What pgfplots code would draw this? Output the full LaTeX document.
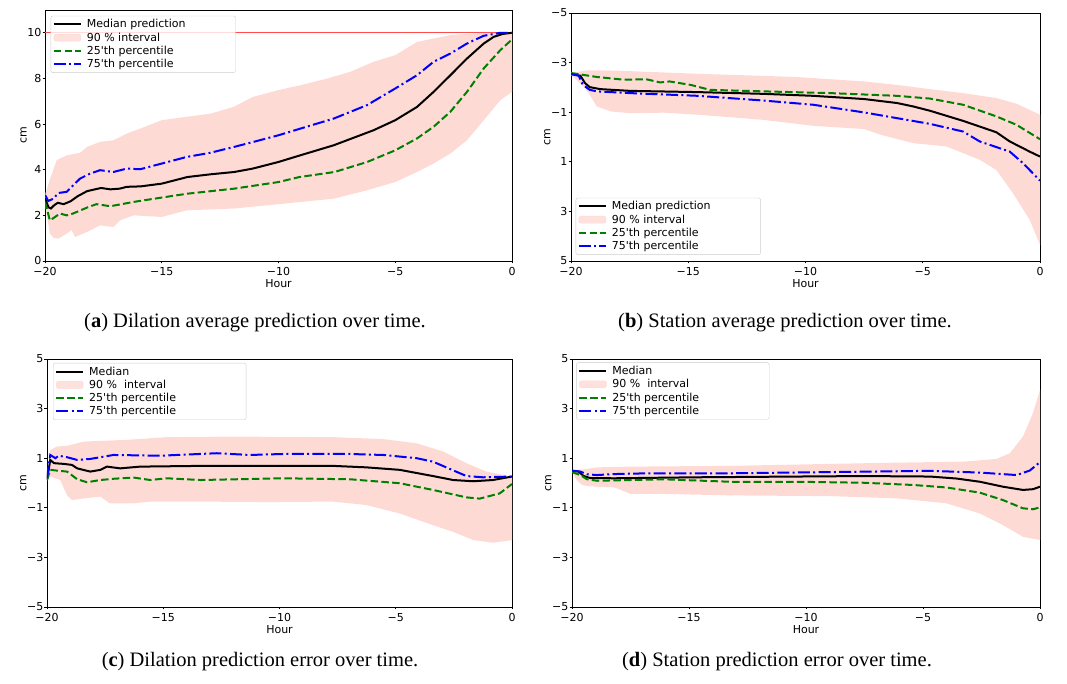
\documentclass[border=0pt]{standalone}
\usepackage{fontspec}
\setmainfont{DejaVu Sans}[Ligatures=TeXOff]
\newfontfamily\capfont{Liberation Serif}
\usepackage{pgfplots}
\pgfplotsset{compat=1.18}
\definecolor{band}{RGB}{254,218,213}
\definecolor{mplgreen}{RGB}{0,128,0}
\definecolor{mplblue}{RGB}{0,0,255}
\tikzset{
  med/.style={black, line width=2pt},
  q25/.style={mplgreen, line width=2pt, dash pattern=on 7.5pt off 3.3pt},
  q75/.style={mplblue, line width=2pt, dash pattern=on 12pt off 3.3pt on 2pt off 3.3pt},
  bnd/.style={fill=band, draw=none},
}
\pgfplotsset{
  mpl/.style={
    scale only axis, xmin=-20, xmax=0,
    xtick={-20,-15,-10,-5,0}, xticklabels={−20,−15,−10,−5,0},
    xtick pos=bottom, ytick pos=left, tick align=outside,
    /pgf/number format/assume math mode=true,
    major tick length=2.5pt, tick style={black, line width=0.8pt},
    axis line style={black, line width=0.8pt},
    tick label style={font=\fontsize{11}{13}\selectfont},
    yticklabel style={inner xsep=1pt},
    label style={font=\fontsize{11}{13}\selectfont},
    xlabel={Hour}, ylabel={cm},
    xlabel style={yshift=3pt}, ylabel style={yshift=-4pt},
    legend cell align=left,
    legend style={font=\fontsize{11}{13}\selectfont, draw=black!20, rounded corners=2pt,
      fill=white, fill opacity=0.8, text opacity=1, inner xsep=2pt, inner ysep=1.5pt, row sep=-0.6pt,
      /tikz/every odd column/.append style={column sep=3pt}},
  },
  lmed/.style={legend image code/.code={\draw[med] (0pt,0pt) -- (27pt,0pt);}},
  l25/.style={legend image code/.code={\draw[q25] (0pt,0pt) -- (27pt,0pt);}},
  l75/.style={legend image code/.code={\draw[q75] (0pt,0pt) -- (27pt,0pt);}},
  lbnd/.style={legend image code/.code={\fill[band] (0pt,-3.5pt) rectangle (27pt,3.5pt);}},
}
\begin{document}
\begin{tikzpicture}
\useasboundingbox (0,0) rectangle (1067pt,684pt);

% (a) dilation average prediction
\begin{axis}[mpl, at={(45pt,423pt)}, anchor=south west, width=467pt, height=251pt,
  ymin=0, ymax=11, ytick={0,2,4,6,8,10}, yticklabels={0,2,4,6,8,10},
  legend style={at={(0.012,0.977)}, anchor=north west}]
\addplot[bnd, forget plot] coordinates {
  (-20,2.9)(-19.8,3.54)(-19.5,4.42)(-19.07,4.63)(-18.5,4.74)(-18.2,5.0)(-17.64,5.22)(-17.07,5.29)
  (-16.5,5.58)(-15.93,5.80)(-15,6.17)(-13.93,6.32)(-12.9,6.46)(-11.93,6.75)(-11.1,7.19)(-10,7.49)
  (-9.07,7.7)(-7.93,7.99)(-6.93,8.29)(-5.93,8.73)(-5,9.02)(-4.07,9.6)(-2.64,9.9)(-1.21,10)(0,10)
  (0,7.41)(-0.5,7.05)(-1.21,6.17)(-1.93,5.29)(-2.64,4.71)(-3.36,4.27)(-4.07,3.9)(-5,3.46)
  (-6.21,3.1)(-7.64,2.73)(-10,2.49)(-11.9,2.3)(-13.93,2.22)(-15,1.93)(-16.21,2.0)(-16.79,1.78)
  (-17.07,1.49)(-17.64,1.56)(-18.21,1.27)(-18.71,1.05)(-18.86,1.35)(-19.07,1.2)(-19.43,0.98)
  (-19.64,1.02)(-19.79,1.2)(-20,2.5)};
\addplot[red!70, line width=1pt, forget plot] coordinates {(-20,10)(0,10)};
\addplot[med, forget plot] coordinates {
  (-20,2.75)(-19.85,2.35)(-19.75,2.3)(-19.6,2.45)(-19.45,2.55)(-19.2,2.49)(-18.9,2.62)(-18.6,2.84)
  (-18.2,3.06)(-17.6,3.2)(-17.2,3.14)(-16.8,3.17)(-16.5,3.25)(-15.9,3.27)(-15,3.39)(-13.9,3.68)
  (-12.9,3.8)(-11.9,3.9)(-11.1,4.05)(-10,4.34)(-9.07,4.63)(-7.64,5.07)(-5.93,5.73)(-5,6.17)
  (-4.07,6.75)(-3.36,7.41)(-2.64,8.14)(-1.93,8.87)(-1.21,9.53)(-0.79,9.82)(-0.4,9.95)(0,10)};
\addplot[q25, forget plot] coordinates {
  (-20,2.6)(-19.79,1.78)(-19.57,1.93)(-19.36,2.08)(-19.07,2.0)(-18.8,2.08)(-18.2,2.34)(-17.8,2.49)
  (-17.2,2.4)(-16.2,2.59)(-15,2.78)(-13.9,2.95)(-11.9,3.17)(-10,3.46)(-9.1,3.68)(-7.6,3.9)
  (-6.2,4.34)(-5,4.85)(-4.07,5.37)(-3.36,5.88)(-2.64,6.54)(-1.93,7.41)(-1.21,8.44)(-0.5,9.24)(0,9.71)};
\addplot[q75, forget plot] coordinates {
  (-20,2.9)(-19.86,2.63)(-19.64,2.73)(-19.43,2.98)(-19.07,3.03)(-18.86,3.25)(-18.5,3.61)(-18.07,3.83)
  (-17.64,3.98)(-17.07,3.9)(-16.5,4.05)(-15.93,4.02)(-15,4.27)(-13.93,4.56)(-12.93,4.74)(-11.9,5.0)
  (-11.07,5.22)(-10,5.51)(-9.07,5.80)(-7.64,6.24)(-6.21,6.83)(-5,7.56)(-4.07,8.14)(-3.36,8.73)
  (-2.64,9.09)(-1.93,9.53)(-1.21,9.87)(-0.5,10)(0,10)};
\addlegendimage{lmed}\addlegendentry{Median prediction\hspace*{46pt}\null}
\addlegendimage{lbnd}\addlegendentry{90 \% interval}
\addlegendimage{l25}\addlegendentry{25'th percentile}
\addlegendimage{l75}\addlegendentry{75'th percentile}
\end{axis}

% (b) station average prediction
\begin{axis}[mpl, at={(571pt,423pt)}, anchor=south west, width=469pt, height=248pt,
  ymin=-5, ymax=5, y dir=reverse, ytick={-5,-3,-1,1,3,5}, yticklabels={−5,−3,−1,1,3,5},
  legend style={at={(0.01,0.025)}, anchor=south west}]
\addplot[bnd, forget plot] coordinates {
  (-20,-2.58)(-19.3,-2.69)(-18.2,-2.68)(-14.6,-2.55)(-10.4,-2.42)(-7.5,-2.24)(-6.1,-2.1)(-4.7,-1.93)
  (-3.28,-1.77)(-1.86,-1.57)(-1.0,-1.34)(0,-0.9)
  (0,4.35)(-0.44,3.34)(-1.15,2.27)(-1.86,1.33)(-2.57,0.92)(-3.28,0.65)(-4.0,0.38)(-5.4,0.25)
  (-6.8,-0.09)(-7.5,-0.32)(-9.67,-0.45)(-11.8,-0.69)(-14.6,-0.9)(-16.05,-0.98)(-17.5,-0.96)
  (-18.3,-1.03)(-18.9,-1.23)(-19.2,-1.7)(-19.46,-2.04)(-20,-2.5)};
\addplot[med, forget plot] coordinates {
  (-20,-2.54)(-19.6,-2.47)(-19.4,-2.17)(-19.2,-2.01)(-18.75,-1.93)(-17.5,-1.86)(-14.6,-1.81)
  (-11.8,-1.74)(-9.67,-1.66)(-7.5,-1.53)(-6.1,-1.37)(-5.4,-1.23)(-4.7,-1.06)(-3.28,-0.65)
  (-1.86,-0.19)(-1.29,0.18)(-0.44,0.59)(0,0.79)};
\addplot[q25, forget plot] coordinates {
  (-20,-2.58)(-18.9,-2.42)(-17.75,-2.31)(-16.8,-2.33)(-16.2,-2.2)(-15.8,-2.24)(-14.9,-2.1)
  (-14.07,-1.9)(-11.8,-1.84)(-8.96,-1.77)(-6.1,-1.66)(-4.7,-1.55)(-3.28,-1.3)(-1.86,-0.83)
  (-1.0,-0.49)(0,0.09)};
\addplot[q75, forget plot] coordinates {
  (-20,-2.54)(-19.67,-2.47)(-19.5,-2.11)(-19.2,-1.9)(-18.9,-1.84)(-17.5,-1.77)(-14.6,-1.66)
  (-11.8,-1.47)(-9.67,-1.3)(-7.5,-0.99)(-6.1,-0.76)(-4.7,-0.53)(-3.28,-0.22)(-2.57,0.18)
  (-1.29,0.59)(-0.72,1.06)(0,1.76)};
\addlegendimage{lmed}\addlegendentry{Median prediction\hspace*{46pt}\null}
\addlegendimage{lbnd}\addlegendentry{90 \% interval}
\addlegendimage{l25}\addlegendentry{25'th percentile}
\addlegendimage{l75}\addlegendentry{75'th percentile}
\end{axis}

% (c) dilation prediction error
\begin{axis}[mpl, at={(47pt,77pt)}, anchor=south west, width=465pt, height=248pt,
  ymin=-5, ymax=5, ytick={-5,-3,-1,1,3,5}, yticklabels={−5,−3,−1,1,3,5},
  legend style={at={(0.013,0.984)}, anchor=north west}]
\addplot[bnd, forget plot] coordinates {
  (-20,0.3)(-19.86,1.33)(-19.57,1.47)(-19.14,1.5)(-18.4,1.67)(-16.56,1.74)(-14.85,1.85)(-12,1.87)
  (-7.7,1.85)(-5.54,1.77)(-4.1,1.6)(-2.96,1.27)(-1.96,0.8)(-1.1,0.46)(0,0.26)
  (0,-2.3)(-0.82,-2.41)(-1.67,-2.3)(-2.53,-1.97)(-3.4,-1.70)(-4.83,-1.23)(-6.26,-0.89)(-7.7,-0.75)
  (-10.5,-0.77)(-13.4,-0.75)(-15.56,-0.75)(-16.28,-0.82)(-17.3,-0.82)(-17.7,-0.55)(-18.4,-0.62)
  (-18.93,-0.69)(-19.14,-0.49)(-19.43,0.12)(-19.86,0.26)(-20,0.1)};
\addplot[med, forget plot] coordinates {
  (-20,0.12)(-19.86,0.93)(-19.7,0.8)(-19.28,0.77)(-18.93,0.73)(-18.7,0.59)(-18.14,0.46)(-17.7,0.53)
  (-17.42,0.66)(-16.85,0.59)(-16,0.66)(-13.4,0.69)(-9.84,0.69)(-7.7,0.69)(-6.26,0.63)(-4.83,0.53)
  (-3.4,0.28)(-2.53,0.12)(-1.67,0.07)(-0.82,0.12)(0,0.26)};
\addplot[q25, forget plot] coordinates {
  (-20,0.12)(-19.86,0.53)(-19.57,0.5)(-19.14,0.46)(-18.7,0.15)(-18.28,0.03)(-17.7,0.12)(-17.14,0.17)
  (-16.28,0.22)(-15.56,0.12)(-14.85,0.19)(-13.4,0.12)(-9.84,0.19)(-6.97,0.15)(-4.83,-0.01)
  (-3.4,-0.28)(-1.96,-0.58)(-1.39,-0.63)(-0.53,-0.42)(0,-0.04)};
\addplot[q75, forget plot] coordinates {
  (-20,0.19)(-19.86,1.13)(-19.64,1.0)(-19.5,1.1)(-19.14,1.04)(-18.7,0.93)(-18.14,0.97)(-17.14,1.13)
  (-15.13,1.1)(-12.7,1.2)(-11.27,1.13)(-9.84,1.17)(-7,1.17)(-5.54,1.13)(-4.1,1.0)(-3.4,0.86)
  (-1.96,0.28)(-1.25,0.23)(0,0.26)};
\addlegendimage{lmed}\addlegendentry{Median}
\addlegendimage{lbnd}\addlegendentry{90 \%\ \ interval}
\addlegendimage{l25}\addlegendentry{25'th percentile\hspace*{66pt}\null}
\addlegendimage{l75}\addlegendentry{75'th percentile}
\end{axis}

% (d) station prediction error
\begin{axis}[mpl, at={(572pt,77pt)}, anchor=south west, width=468pt, height=248pt,
  ymin=-5, ymax=5, ytick={-5,-3,-1,1,3,5}, yticklabels={−5,−3,−1,1,3,5},
  legend style={at={(0.009,0.986)}, anchor=north west}]
\addplot[bnd, forget plot] coordinates {
  (-20,0.52)(-19.5,0.55)(-18.93,0.63)(-17.5,0.66)(-13.24,0.69)(-8.97,0.77)(-6.13,0.82)(-3.28,0.86)
  (-1.86,0.97)(-1.29,1.2)(-0.73,1.87)(-0.3,2.82)(0,3.76)
  (0,-2.3)(-0.73,-2.17)(-1.58,-1.7)(-2.57,-1.23)(-4.0,-0.82)(-6.13,-0.62)(-8.97,-0.53)(-13.24,-0.5)
  (-16.1,-0.44)(-17.5,-0.44)(-18.2,-0.17)(-18.93,-0.15)(-19.36,-0.12)(-19.57,-0.08)(-19.8,0.12)(-20,0.45)};
\addplot[med, forget plot] coordinates {
  (-20,0.49)(-19.72,0.46)(-19.5,0.28)(-19.22,0.2)(-18.2,0.19)(-14.67,0.23)(-10.4,0.26)(-7.55,0.28)
  (-4.7,0.26)(-3.57,0.18)(-2.57,0.05)(-1.58,-0.15)(-0.73,-0.28)(-0.3,-0.25)(0,-0.15)};
\addplot[q25, forget plot] coordinates {
  (-20,0.44)(-19.64,0.32)(-19.36,0.15)(-18.93,0.09)(-17.5,0.12)(-16.1,0.15)(-13.24,0.05)(-10.4,0.05)
  (-7.55,0.01)(-5.42,-0.08)(-4.0,-0.18)(-2.57,-0.39)(-1.58,-0.69)(-0.73,-1.02)(-0.3,-1.06)(0,-0.98)};
\addplot[q75, forget plot] coordinates {
  (-20,0.5)(-19.64,0.46)(-19.36,0.35)(-18.93,0.32)(-18.2,0.36)(-16.8,0.39)(-13.24,0.39)(-8.97,0.44)
  (-4.7,0.49)(-2.57,0.42)(-1.0,0.32)(-0.44,0.5)(0,0.84)};
\addlegendimage{lmed}\addlegendentry{Median}
\addlegendimage{lbnd}\addlegendentry{90 \%\ \ interval}
\addlegendimage{l25}\addlegendentry{25'th percentile\hspace*{66pt}\null}
\addlegendimage{l75}\addlegendentry{75'th percentile}
\end{axis}

\begin{scope}[every node/.style={font=\capfont\fontsize{20.5}{24}\selectfont}]
\node at (255pt,361pt) {(\textbf{a}) Dilation average prediction over time.};
\node at (785pt,361pt) {(\textbf{b}) Station average prediction over time.};
\node at (260pt,22pt) {(\textbf{c}) Dilation prediction error over time.};
\node at (777pt,22pt) {(\textbf{d}) Station prediction error over time.};
\end{scope}
\end{tikzpicture}
\end{document}
